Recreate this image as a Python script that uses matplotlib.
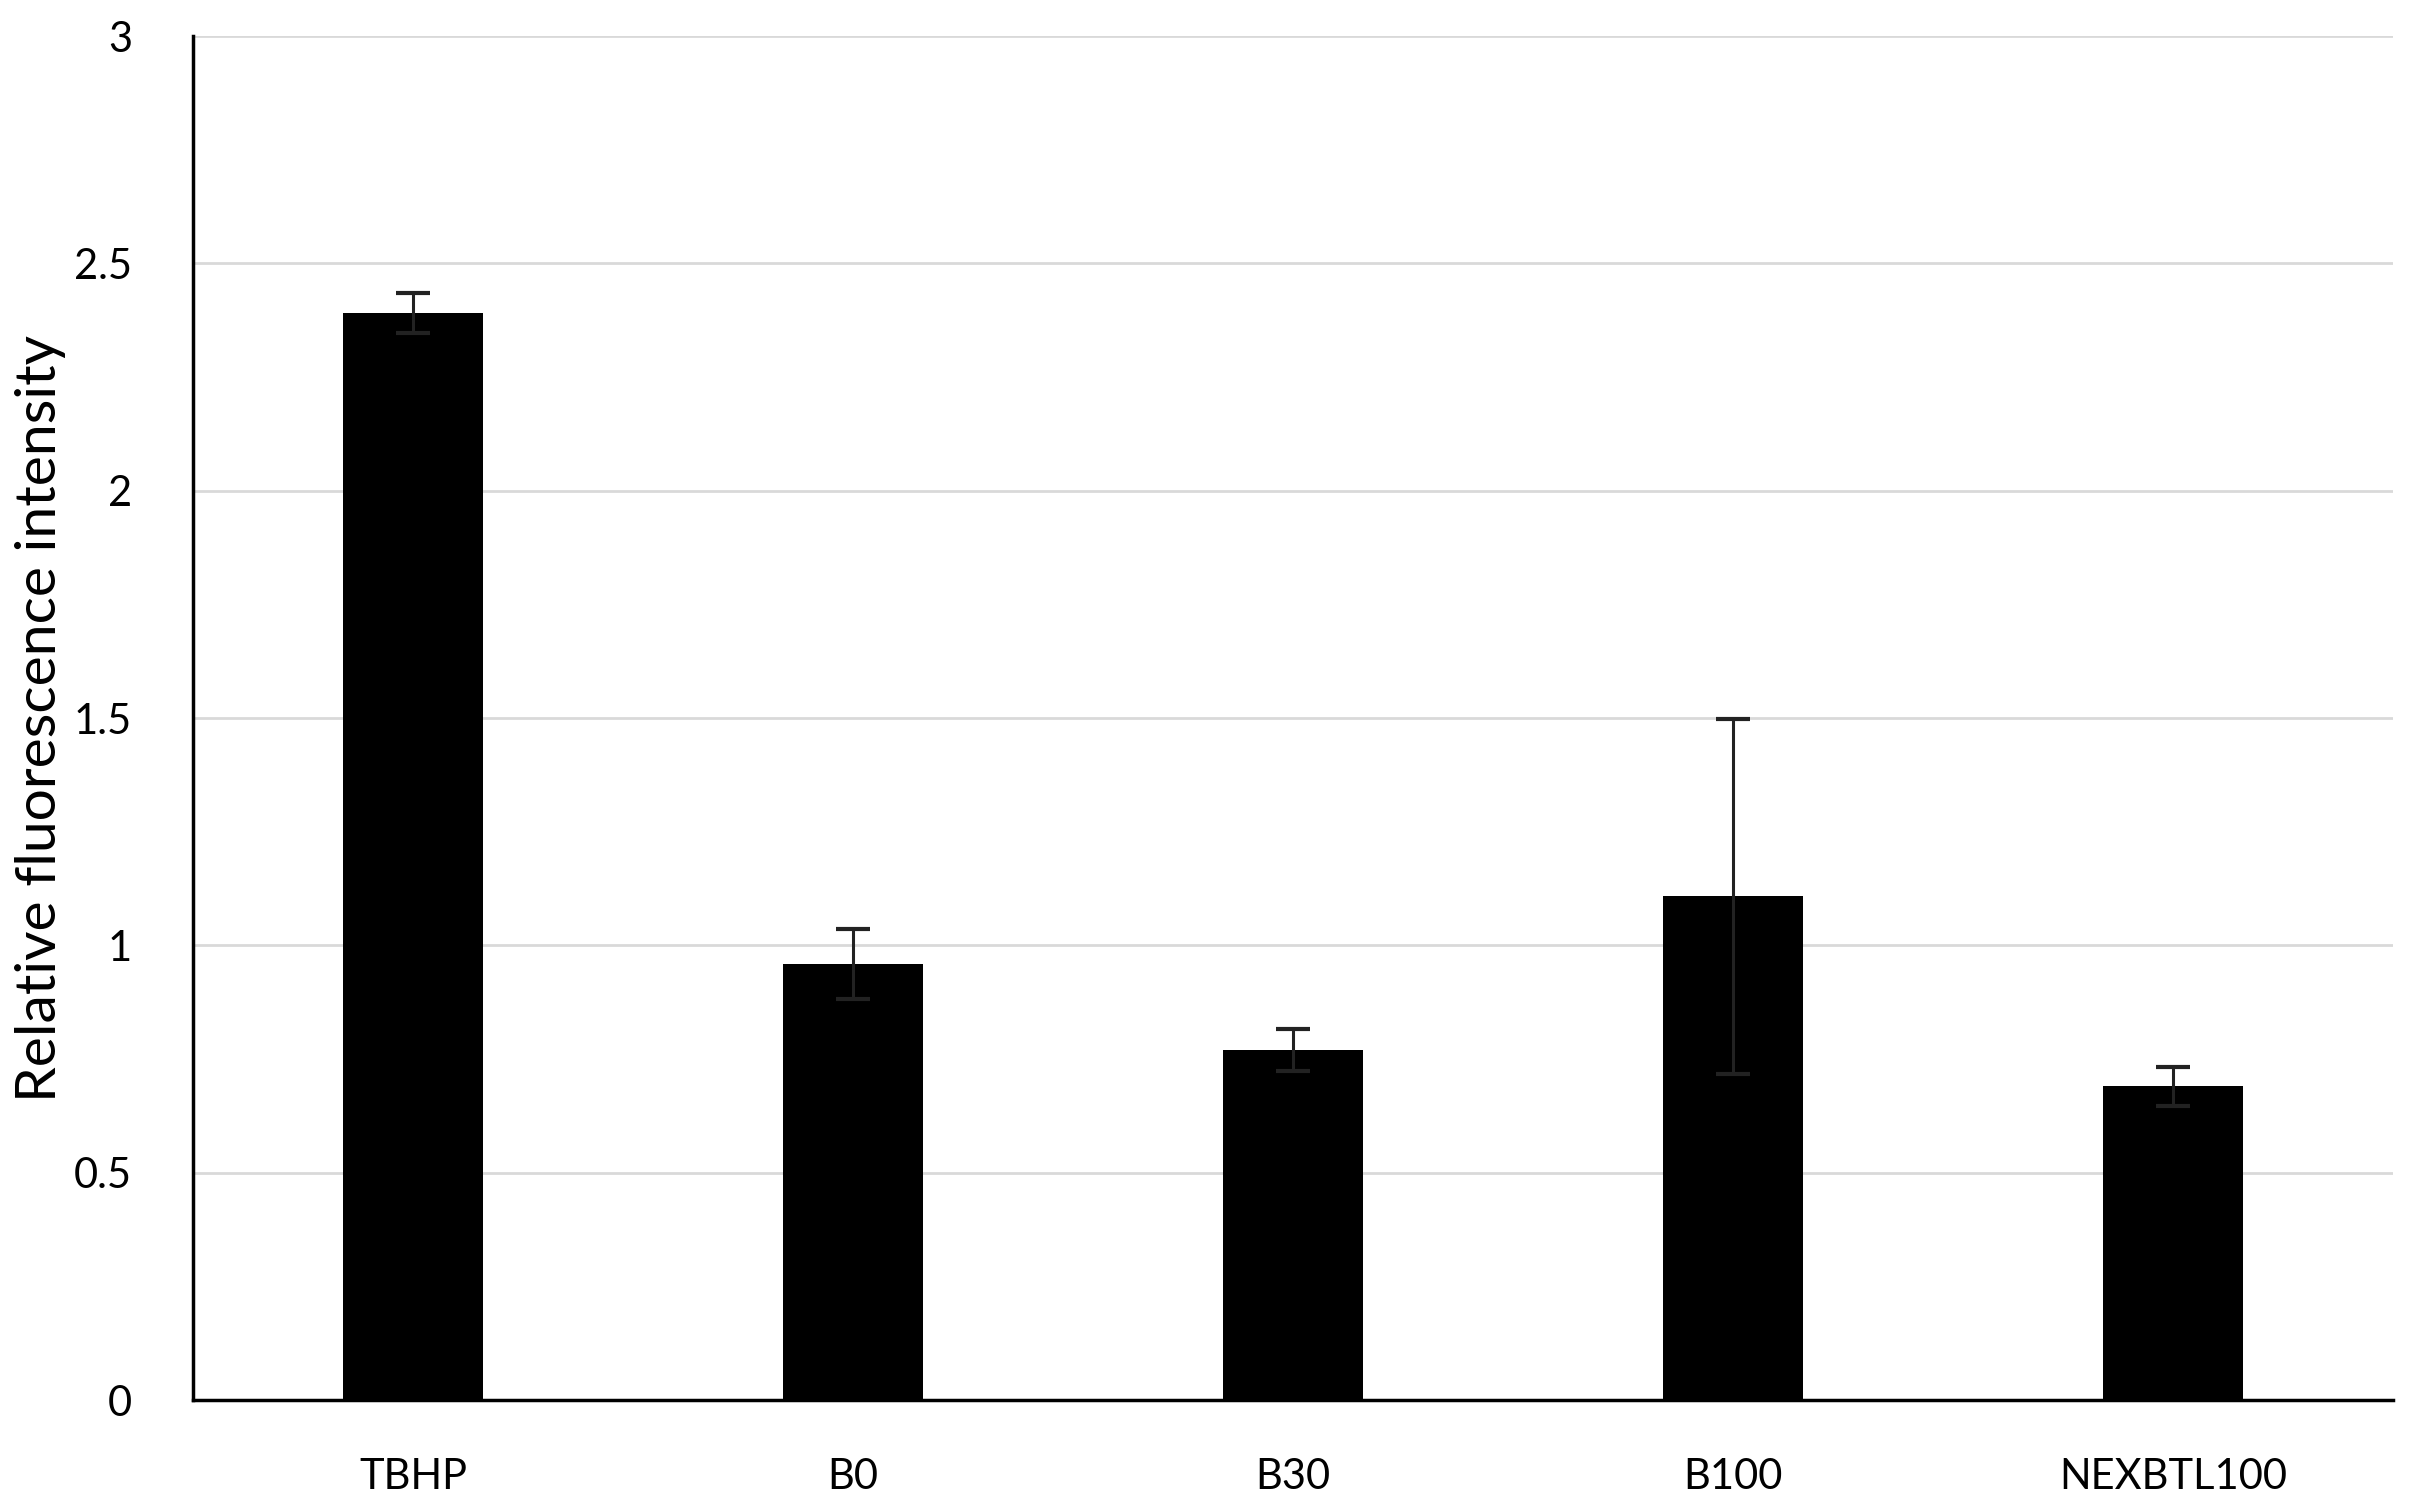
import matplotlib
matplotlib.use("Agg")
import matplotlib.pyplot as plt

categories = ["TBHP", "B0", "B30", "B100", "NEXBTL100"]
values = [2.39, 0.96, 0.77, 1.108, 0.69]
errors = [0.044, 0.077, 0.047, 0.39, 0.043]
yticks = [0, 0.5, 1, 1.5, 2, 2.5, 3]
yticklabels = ["0", "0.5", "1", "1.5", "2", "2.5", "3"]

plt.rcParams['font.family'] = ['Lato', 'DejaVu Sans']

fig = plt.figure(figsize=(24.12, 14.95), dpi=100)
ax = fig.add_axes([193/2412, 1 - 1400/1495, 2200/2412, 1364/1495])

x = range(len(categories))
ax.bar(x, values, width=0.32, color="black", zorder=3)
ax.errorbar(x, values, yerr=errors, fmt="none", ecolor="#222222",
            elinewidth=2.2, capsize=12, capthick=3, zorder=4)

ax.set_xlim(-0.5, len(categories) - 0.5)
ax.set_ylim(0, 3)
ax.set_yticks(yticks)
ax.set_yticklabels(yticklabels)
ax.set_xticks(list(x))
ax.set_xticklabels(categories)
ax.tick_params(axis="both", length=0, labelsize=30, colors="black")
ax.tick_params(axis="y", pad=44)
ax.tick_params(axis="x", pad=42)
ax.grid(axis="y", color="#d9d9d9", linewidth=2, zorder=0)
ax.set_axisbelow(True)
for s in ["top", "right"]:
    ax.spines[s].set_visible(False)
for s in ["left", "bottom"]:
    ax.spines[s].set_linewidth(2.5)
    ax.spines[s].set_color("black")
ax.set_ylabel("Relative fluorescence intensity", fontsize=41)
ax.yaxis.set_label_coords((41 - 193) / 2200, 0.5)
ax.yaxis.label.set_verticalalignment("center")

fig.savefig("out.png", dpi=100)
